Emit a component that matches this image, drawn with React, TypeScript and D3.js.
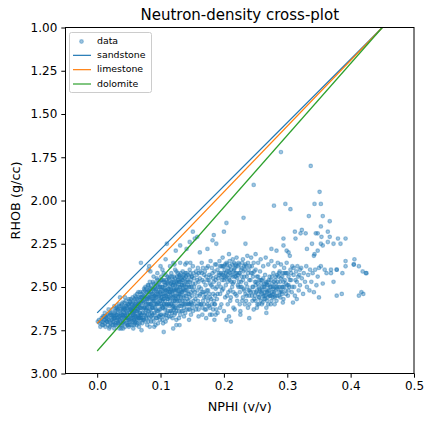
import React, { useEffect, useRef } from "react";
import * as d3 from "d3";

type Pt = [number, number];

const WIDTH = 432;
const HEIGHT = 423;

const xTicks = [0, 0.1, 0.2, 0.3, 0.4, 0.5];
const yTicks = [1, 1.25, 1.5, 1.75, 2, 2.25, 2.5, 2.75, 3];

// matrix lines, start at the matrix density and all meet at the fluid point
const lithologies = ["sandstone", "limestone", "dolomite"];
const lithologyColors = ["#1f77b4", "#ff7f0e", "#2ca02c"];
const matrixRhob = [2.65, 2.71, 2.87];
const fluidPoint: Pt = [0.45, 1.0];

// points, left to right
const tightPoints: Pt[] = [
  [0.001,2.7],[0.003,2.69],[0.004,2.71],[0.006,2.7],[0.007,2.68],[0.008,2.72],[0.009,2.7],[0.011,2.69],[0.012,2.71],[0.013,2.73],
  [0.014,2.67],[0.015,2.7],[0.016,2.66],[0.017,2.72],[0.018,2.69],[0.019,2.74],[0.02,2.65],[0.021,2.71],[0.022,2.68],[0.023,2.72],
  [0.024,2.63],[0.025,2.7],[0.026,2.66],[0.027,2.74],[0.028,2.68],[0.029,2.64],[0.03,2.72],[0.031,2.69],[0.032,2.62],[0.033,2.66],
  [0.034,2.71],[0.035,2.74],[0.036,2.64],[0.037,2.68],[0.038,2.61],[0.039,2.72],[0.04,2.66],[0.041,2.7],[0.042,2.63],[0.043,2.59],
  [0.044,2.73],[0.045,2.67],[0.046,2.64],[0.047,2.71],[0.048,2.6],[0.049,2.68],[0.05,2.57],[0.05,2.73],[0.051,2.62],[0.052,2.66],
  [0.053,2.7],[0.054,2.6],[0.055,2.64],[0.055,2.72],[0.056,2.56],[0.057,2.68],[0.058,2.62],[0.059,2.66],[0.06,2.55],[0.06,2.71],
  [0.061,2.6],[0.062,2.64],[0.063,2.69],[0.064,2.58],[0.065,2.53],[0.065,2.66],[0.066,2.73],[0.067,2.62],[0.068,2.56],[0.069,2.69],
  [0.012,2.65],[0.018,2.63],[0.024,2.67],[0.027,2.61],[0.031,2.66],[0.034,2.6],[0.036,2.7],[0.04,2.62],[0.043,2.68],[0.045,2.61],
  [0.047,2.65],[0.049,2.72],[0.052,2.59],[0.054,2.68],[0.057,2.63],[0.059,2.7],[0.061,2.67],[0.063,2.57],[0.066,2.6],[0.068,2.65],
  [0.009,2.67],[0.015,2.68],[0.021,2.66],[0.026,2.7],[0.029,2.68],[0.033,2.7],[0.037,2.65],[0.041,2.66],[0.044,2.63],[0.048,2.69],
  [0.051,2.65],[0.053,2.63],[0.056,2.66],[0.058,2.69],[0.06,2.6],[0.062,2.68],[0.064,2.63],[0.067,2.67],[0.069,2.59],[0.07,2.62],
  [0.036,2.56],[0.044,2.56],[0.041,2.74],[0.057,2.74],[0.038,2.74],
  [0.005,2.73],[0.01,2.72],[0.011,2.67],[0.013,2.69],[0.016,2.7],[0.017,2.67],[0.019,2.7],[0.02,2.73],[0.022,2.65],[0.023,2.69],
  [0.025,2.72],[0.026,2.68],[0.028,2.72],[0.028,2.65],[0.03,2.66],[0.03,2.62],[0.032,2.68],[0.032,2.71],[0.033,2.63],[0.035,2.69],
  [0.035,2.61],[0.036,2.67],[0.037,2.72],[0.038,2.63],[0.039,2.68],[0.04,2.59],[0.04,2.71],[0.041,2.63],[0.042,2.67],[0.042,2.7],
  [0.043,2.62],[0.044,2.66],[0.045,2.58],[0.045,2.71],[0.046,2.68],[0.046,2.61],[0.047,2.62],[0.048,2.66],[0.048,2.72],[0.049,2.63],
  [0.05,2.6],[0.05,2.69],[0.051,2.7],[0.051,2.58],[0.052,2.63],[0.052,2.72],[0.053,2.67],[0.053,2.57],[0.054,2.64],[0.055,2.68],
  [0.055,2.6],[0.056,2.62],[0.056,2.7],[0.057,2.58],[0.057,2.65],[0.058,2.66],[0.058,2.72],[0.059,2.61],[0.059,2.57],[0.06,2.64],
  [0.06,2.67],[0.061,2.56],[0.061,2.7],[0.062,2.61],[0.062,2.72],[0.063,2.64],[0.063,2.54],[0.064,2.67],[0.064,2.71],[0.065,2.6],
  [0.065,2.63],[0.066,2.56],[0.066,2.68],[0.067,2.59],[0.067,2.71],[0.068,2.62],[0.068,2.53],[0.069,2.66],[0.069,2.56],[0.07,2.68],
  [0.023,2.66],[0.027,2.67],[0.029,2.71],[0.031,2.63],[0.034,2.67],[0.038,2.66],[0.039,2.6],[0.043,2.65],[0.047,2.68],[0.049,2.6],
  [0.054,2.62],[0.056,2.59],[0.058,2.64],[0.06,2.62],[0.062,2.59],[0.064,2.61],[0.065,2.68],[0.067,2.65],[0.068,2.68],[0.07,2.58],
];

const blobPoints: Pt[] = [
  [0.07,2.54],[0.07,2.66],[0.071,2.71],[0.072,2.58],[0.073,2.63],[0.074,2.51],[0.074,2.69],[0.075,2.56],[0.076,2.65],[0.077,2.6],
  [0.078,2.53],[0.078,2.68],[0.079,2.62],[0.08,2.49],[0.08,2.57],[0.081,2.7],[0.082,2.64],[0.083,2.55],[0.083,2.6],[0.084,2.51],
  [0.085,2.67],[0.086,2.58],[0.087,2.62],[0.088,2.47],[0.088,2.54],[0.089,2.7],[0.09,2.6],[0.09,2.65],[0.091,2.5],[0.092,2.56],
  [0.093,2.63],[0.094,2.45],[0.094,2.68],[0.095,2.53],[0.096,2.59],[0.097,2.48],[0.098,2.63],[0.098,2.55],[0.099,2.66],[0.1,2.5],
  [0.1,2.58],[0.101,2.44],[0.102,2.61],[0.103,2.54],[0.104,2.47],[0.104,2.67],[0.105,2.57],[0.106,2.51],[0.107,2.63],[0.108,2.43],
  [0.108,2.55],[0.109,2.6],[0.11,2.48],[0.11,2.65],[0.111,2.53],[0.112,2.57],[0.113,2.45],[0.114,2.61],[0.115,2.5],[0.116,2.55],
  [0.117,2.42],[0.117,2.64],[0.118,2.47],[0.119,2.58],[0.12,2.52],[0.12,2.61],[0.121,2.44],[0.122,2.55],[0.123,2.49],[0.124,2.62],
  [0.125,2.41],[0.125,2.57],[0.126,2.52],[0.127,2.46],[0.128,2.6],[0.129,2.54],[0.13,2.43],[0.13,2.5],[0.131,2.58],[0.132,2.47],
  [0.133,2.64],[0.134,2.53],[0.135,2.41],[0.136,2.56],[0.137,2.49],[0.138,2.45],[0.139,2.6],[0.14,2.52],[0.141,2.42],[0.142,2.57],
  [0.143,2.47],[0.144,2.63],[0.145,2.54],[0.146,2.4],[0.147,2.5],[0.148,2.59],[0.149,2.44],[0.15,2.55],[0.151,2.48],[0.152,2.42],
  [0.073,2.55],[0.077,2.67],[0.081,2.52],[0.084,2.6],[0.086,2.65],[0.089,2.52],[0.091,2.62],[0.093,2.58],[0.095,2.49],[0.097,2.67],
  [0.099,2.53],[0.101,2.56],[0.103,2.62],[0.105,2.46],[0.107,2.52],[0.109,2.66],[0.111,2.47],[0.112,2.6],[0.114,2.53],[0.116,2.48],
  [0.118,2.6],[0.12,2.46],[0.122,2.58],[0.124,2.52],[0.126,2.44],[0.128,2.56],[0.13,2.61],[0.132,2.52],[0.134,2.46],[0.136,2.6],
  [0.075,2.62],[0.079,2.58],[0.082,2.56],[0.085,2.53],[0.087,2.57],[0.09,2.55],[0.092,2.52],[0.094,2.6],[0.096,2.54],[0.098,2.6],
  [0.1,2.63],[0.102,2.5],[0.104,2.57],[0.106,2.6],[0.108,2.49],[0.11,2.56],[0.112,2.51],[0.115,2.58],[0.117,2.52],[0.119,2.49],
  [0.121,2.6],[0.123,2.56],[0.125,2.47],[0.127,2.54],[0.129,2.47],[0.131,2.54],[0.133,2.49],[0.135,2.58],[0.138,2.52],[0.14,2.47],
  [0.076,2.5],[0.083,2.47],[0.089,2.44],[0.095,2.42],[0.103,2.4],[0.115,2.38],[0.122,2.37],[0.131,2.36],[0.141,2.36],[0.116,2.67],
  [0.122,2.66],[0.104,2.71],[0.092,2.72],[0.083,2.73],[0.129,2.68],[0.137,2.67],[0.13,2.72],[0.12,2.74],[0.105,2.76],[0.07,2.75],
  [0.145,2.6],[0.148,2.66],[0.156,2.63],[0.153,2.5],[0.155,2.57],[0.157,2.43],[0.158,2.52],[0.159,2.39],[0.16,2.47],[0.161,2.6],
  [0.162,2.55],[0.163,2.41],[0.164,2.51],[0.165,2.36],[0.166,2.46],[0.167,2.58],[0.168,2.53],[0.169,2.43],[0.17,2.63],[0.171,2.49],
  [0.172,2.56],[0.173,2.39],[0.174,2.46],[0.175,2.52],[0.176,2.61],[0.177,2.43],[0.178,2.56],[0.179,2.35],[0.18,2.49],[0.181,2.66],
  [0.182,2.42],[0.183,2.54],[0.184,2.47],[0.185,2.6],[0.186,2.37],[0.187,2.51],[0.188,2.44],[0.189,2.57],[0.19,2.4],[0.19,2.65],
  [0.071,2.56],[0.071,2.61],[0.072,2.65],[0.072,2.53],[0.073,2.59],[0.073,2.68],[0.074,2.57],[0.074,2.62],[0.075,2.52],[0.075,2.66],
  [0.076,2.59],[0.076,2.55],[0.077,2.63],[0.077,2.51],[0.078,2.57],[0.078,2.62],[0.079,2.53],[0.079,2.66],[0.08,2.6],[0.08,2.64],
  [0.081,2.56],[0.081,2.49],[0.082,2.6],[0.082,2.53],[0.083,2.66],[0.083,2.51],[0.084,2.56],[0.084,2.63],[0.085,2.49],[0.085,2.6],
  [0.086,2.54],[0.086,2.62],[0.087,2.51],[0.087,2.66],[0.088,2.58],[0.088,2.62],[0.089,2.56],[0.089,2.48],[0.09,2.51],[0.09,2.58],
  [0.091,2.55],[0.091,2.66],[0.092,2.6],[0.092,2.48],[0.093,2.54],[0.093,2.51],[0.094,2.56],[0.094,2.64],[0.095,2.6],[0.095,2.46],
  [0.096,2.5],[0.096,2.64],[0.097,2.56],[0.097,2.52],[0.098,2.47],[0.098,2.67],[0.099,2.58],[0.099,2.5],[0.1,2.54],[0.1,2.46],
  [0.101,2.6],[0.101,2.52],[0.102,2.56],[0.102,2.46],[0.103,2.5],[0.103,2.58],[0.104,2.52],[0.104,2.62],[0.105,2.54],[0.105,2.6],
  [0.106,2.47],[0.106,2.55],[0.107,2.58],[0.107,2.49],[0.108,2.62],[0.108,2.52],[0.109,2.46],[0.109,2.55],[0.11,2.52],[0.11,2.6],
  [0.111,2.57],[0.111,2.44],[0.112,2.54],[0.112,2.48],[0.113,2.6],[0.113,2.51],[0.114,2.46],[0.114,2.56],[0.115,2.44],[0.115,2.53],
  [0.116,2.51],[0.116,2.6],[0.117,2.48],[0.117,2.56],[0.118,2.53],[0.118,2.44],[0.119,2.54],[0.119,2.62],[0.12,2.49],[0.12,2.56],
  [0.121,2.51],[0.121,2.47],[0.122,2.62],[0.122,2.52],[0.123,2.45],[0.123,2.58],[0.124,2.55],[0.124,2.48],[0.125,2.51],[0.125,2.64],
  [0.126,2.48],[0.126,2.58],[0.127,2.5],[0.127,2.42],[0.128,2.52],[0.128,2.46],[0.129,2.58],[0.129,2.44],[0.13,2.55],[0.13,2.47],
  [0.131,2.5],[0.131,2.44],[0.132,2.56],[0.132,2.42],[0.133,2.53],[0.133,2.45],[0.134,2.49],[0.134,2.6],[0.135,2.52],[0.135,2.46],
  [0.136,2.44],[0.136,2.51],[0.137,2.55],[0.137,2.43],[0.138,2.48],[0.138,2.58],[0.139,2.5],[0.139,2.42],[0.14,2.55],[0.14,2.44],
  [0.141,2.5],[0.141,2.6],[0.142,2.46],[0.142,2.52],[0.143,2.43],[0.143,2.54],[0.144,2.49],[0.144,2.58],[0.145,2.44],[0.145,2.5],
  [0.146,2.56],[0.146,2.47],[0.147,2.42],[0.147,2.6],[0.148,2.46],[0.148,2.53],[0.149,2.5],[0.15,2.44],[0.15,2.62],[0.151,2.52],
  [0.152,2.58],[0.153,2.45],[0.154,2.53],[0.155,2.48],[0.156,2.41],[0.157,2.55],[0.158,2.46],[0.159,2.58],[0.16,2.42],[0.161,2.5],
  [0.162,2.45],[0.163,2.54],[0.164,2.6],[0.165,2.42],[0.166,2.53],[0.167,2.39],[0.168,2.47],[0.169,2.56],[0.17,2.41],[0.171,2.54],
  [0.172,2.44],[0.173,2.52],[0.174,2.6],[0.175,2.38],[0.176,2.46],[0.177,2.54],[0.178,2.48],[0.179,2.44],[0.18,2.57],[0.181,2.39],
  [0.182,2.5],[0.183,2.45],[0.184,2.58],[0.185,2.41],[0.186,2.55],[0.187,2.46],[0.188,2.37],[0.189,2.5],[0.19,2.54],[0.191,2.45],
  // lower edge of the cloud
  [0.072,2.69],[0.076,2.7],[0.079,2.72],[0.082,2.68],[0.085,2.7],[0.088,2.68],[0.09,2.73],[0.093,2.68],[0.096,2.71],[0.099,2.69],
  [0.101,2.66],[0.103,2.69],[0.106,2.66],[0.108,2.7],[0.11,2.68],[0.112,2.64],[0.113,2.67],[0.115,2.64],[0.118,2.65],[0.119,2.68],
  [0.121,2.63],[0.123,2.65],[0.125,2.69],[0.127,2.62],[0.129,2.64],[0.131,2.66],[0.133,2.61],[0.135,2.64],[0.137,2.62],[0.139,2.65],
  [0.141,2.63],[0.143,2.6],[0.146,2.63],[0.149,2.6],[0.151,2.64],[0.154,2.6],[0.157,2.61],[0.16,2.63],[0.163,2.6],[0.166,2.62],
  [0.169,2.6],[0.172,2.63],[0.175,2.58],[0.178,2.62],[0.181,2.6],[0.183,2.63],[0.186,2.6],[0.188,2.63],[0.125,2.72],[0.145,2.69],
];

const bodyPoints: Pt[] = [
  [0.192,2.48],[0.193,2.35],[0.194,2.54],[0.195,2.42],[0.196,2.6],[0.197,2.46],[0.198,2.33],[0.199,2.51],[0.2,2.38],[0.2,2.64],
  [0.201,2.44],[0.202,2.56],[0.203,2.49],[0.204,2.36],[0.205,2.41],[0.206,2.6],[0.207,2.53],[0.208,2.31],[0.209,2.46],[0.21,2.38],
  [0.211,2.56],[0.212,2.43],[0.213,2.5],[0.214,2.34],[0.215,2.62],[0.216,2.47],[0.217,2.39],[0.218,2.54],[0.219,2.44],[0.22,2.33],
  [0.221,2.58],[0.222,2.49],[0.223,2.36],[0.224,2.42],[0.225,2.53],[0.226,2.64],[0.227,2.47],[0.228,2.39],[0.229,2.58],[0.23,2.34],
  [0.231,2.51],[0.232,2.44],[0.233,2.6],[0.234,2.37],[0.235,2.48],[0.236,2.55],[0.237,2.32],[0.238,2.42],[0.239,2.52],[0.24,2.6],
  [0.241,2.38],[0.242,2.46],[0.243,2.33],[0.244,2.55],[0.245,2.42],[0.246,2.5],[0.247,2.36],[0.248,2.57],[0.249,2.47],[0.25,2.31],
  [0.251,2.53],[0.252,2.44],[0.253,2.6],[0.254,2.36],[0.255,2.5],[0.256,2.56],[0.257,2.41],[0.258,2.34],[0.259,2.53],[0.26,2.46],
  [0.261,2.59],[0.262,2.38],[0.263,2.5],[0.264,2.55],[0.265,2.43],[0.266,2.33],[0.267,2.52],[0.268,2.58],[0.269,2.47],[0.27,2.37],
  [0.271,2.54],[0.272,2.44],[0.273,2.5],[0.274,2.6],[0.275,2.35],[0.276,2.48],[0.277,2.56],[0.278,2.42],[0.279,2.53],[0.28,2.38],
  [0.281,2.46],[0.282,2.52],[0.283,2.58],[0.284,2.43],[0.285,2.36],[0.286,2.5],[0.287,2.55],[0.288,2.41],[0.289,2.47],[0.29,2.37],
  [0.291,2.53],[0.292,2.44],[0.293,2.5],[0.294,2.57],[0.295,2.39],[0.296,2.46],[0.297,2.52],[0.298,2.42],[0.299,2.36],[0.3,2.49],
  [0.301,2.55],[0.302,2.44],[0.303,2.5],[0.305,2.4],[0.306,2.46],[0.307,2.53],[0.308,2.38],[0.31,2.43],[0.311,2.5],[0.312,2.55],
  [0.314,2.41],[0.315,2.47],[0.316,2.38],[0.318,2.52],[0.319,2.43],[0.32,2.49],[0.322,2.39],[0.323,2.45],[0.325,2.54],[0.326,2.42],
  [0.328,2.47],[0.33,2.38],[0.331,2.5],[0.333,2.43],[0.335,2.52],[0.336,2.4],[0.338,2.47],[0.34,2.42],[0.342,2.53],[0.344,2.4],
  [0.346,2.49],[0.348,2.44],[0.35,2.39],
  [0.195,2.5],[0.198,2.43],[0.202,2.37],[0.206,2.47],[0.21,2.52],[0.214,2.44],[0.218,2.37],[0.222,2.43],[0.226,2.5],[0.23,2.46],
  [0.234,2.54],[0.238,2.36],[0.242,2.53],[0.246,2.44],[0.25,2.49],[0.254,2.54],[0.258,2.46],[0.262,2.55],[0.266,2.47],[0.27,2.52],
  [0.274,2.46],[0.278,2.51],[0.282,2.48],[0.286,2.44],[0.29,2.52],[0.294,2.47],[0.298,2.54],[0.302,2.49],[0.256,2.51],[0.26,2.52],
  [0.264,2.5],[0.268,2.49],[0.272,2.55],[0.276,2.53],[0.28,2.56],[0.284,2.51],[0.288,2.53],[0.292,2.5],[0.204,2.44],[0.208,2.41],
  [0.212,2.47],[0.216,2.4],[0.22,2.42],[0.224,2.47],[0.228,2.44],[0.232,2.38],[0.196,2.38],[0.2,2.46],[0.192,2.42],[0.194,2.62],
  [0.187,2.66],[0.185,2.69],[0.178,2.66],[0.172,2.68],[0.166,2.66],[0.16,2.67],
  [0.193,2.43],[0.194,2.38],[0.196,2.44],[0.197,2.52],[0.198,2.38],[0.199,2.42],[0.201,2.4],[0.202,2.45],[0.203,2.42],[0.205,2.37],
  [0.206,2.43],[0.207,2.39],[0.208,2.45],[0.209,2.35],[0.21,2.42],[0.211,2.4],[0.213,2.37],[0.214,2.48],[0.215,2.41],[0.216,2.36],
  [0.217,2.44],[0.218,2.42],[0.219,2.38],[0.221,2.45],[0.222,2.38],[0.223,2.5],[0.224,2.37],[0.225,2.42],[0.227,2.4],[0.228,2.5],
  [0.229,2.36],[0.231,2.41],[0.232,2.52],[0.233,2.4],[0.235,2.38],[0.236,2.44],[0.237,2.5],[0.239,2.4],[0.24,2.46],[0.241,2.52],
  [0.243,2.42],[0.244,2.38],[0.245,2.5],[0.247,2.53],[0.248,2.41],[0.249,2.55],[0.25,2.4],[0.251,2.47],[0.252,2.52],[0.253,2.48],
  [0.254,2.44],[0.255,2.56],[0.256,2.46],[0.257,2.52],[0.258,2.58],[0.259,2.48],[0.26,2.54],[0.261,2.5],[0.262,2.45],[0.263,2.57],
  [0.264,2.48],[0.265,2.53],[0.266,2.55],[0.267,2.48],[0.268,2.53],[0.269,2.56],[0.27,2.49],[0.271,2.46],[0.272,2.52],[0.273,2.55],
  [0.274,2.5],[0.275,2.55],[0.276,2.44],[0.277,2.5],[0.278,2.54],[0.279,2.47],[0.28,2.5],[0.281,2.55],[0.282,2.44],[0.283,2.5],
  [0.284,2.55],[0.285,2.47],[0.287,2.42],[0.288,2.5],[0.289,2.56],[0.29,2.45],[0.292,2.54],[0.293,2.42],[0.295,2.5],[0.296,2.42],
  [0.298,2.48],[0.3,2.42],[0.302,2.52],[0.304,2.46],[0.306,2.42],[0.308,2.5],[0.31,2.39],[0.313,2.46],[0.317,2.44],[0.32,2.4],
  [0.205,2.55],[0.21,2.58],[0.215,2.53],[0.22,2.55],[0.225,2.6],[0.23,2.56],[0.235,2.58],[0.24,2.55],[0.245,2.58],[0.25,2.58],
  [0.255,2.6],[0.26,2.6],[0.265,2.57],[0.27,2.6],[0.275,2.58],
];

const sparsePoints: Pt[] = [
  [0.29,1.72],[0.337,1.8],[0.247,1.91],[0.351,1.95],[0.279,2.03],[0.297,2.02],[0.305,2.05],[0.343,2.02],[0.353,2.02],[0.231,2.1],
  [0.334,2.09],[0.356,2.09],[0.367,2.12],[0.204,2.13],[0.2,2.18],[0.353,2.15],[0.312,2.18],[0.323,2.17],[0.321,2.19],[0.329,2.19],
  [0.345,2.19],[0.348,2.19],[0.354,2.21],[0.364,2.18],[0.367,2.21],[0.294,2.22],[0.313,2.22],[0.38,2.22],[0.392,2.22],[0.234,2.25],
  [0.339,2.25],[0.364,2.24],[0.373,2.25],[0.384,2.25],[0.294,2.26],[0.353,2.25],[0.356,2.26],[0.275,2.28],[0.283,2.29],[0.331,2.28],
  [0.348,2.29],[0.299,2.29],[0.302,2.3],[0.304,2.32],[0.343,2.31],[0.342,2.32],[0.406,2.34],[0.392,2.35],[0.405,2.37],[0.405,2.37],
  [0.392,2.38],[0.413,2.38],[0.419,2.41],[0.424,2.42],[0.425,2.42],[0.387,2.42],[0.378,2.4],[0.378,2.4],[0.369,2.4],[0.369,2.42],
  [0.359,2.4],[0.362,2.42],[0.373,2.47],[0.353,2.38],[0.356,2.48],[0.386,2.54],[0.378,2.55],[0.413,2.55],[0.417,2.53],[0.42,2.54],
  [0.35,2.56],[0.315,2.57],[0.309,2.59],[0.24,2.68],[0.211,2.7],[0.204,2.69],[0.208,2.67],[0.226,2.66],[0.217,2.63],[0.267,2.65],
  [0.267,2.62],[0.247,2.63],[0.238,2.62],[0.252,2.62],[0.28,2.6],[0.293,2.59],
  // scattered above the main trend, near the lines
  [0.151,2.18],[0.158,2.21],[0.154,2.22],[0.146,2.24],[0.11,2.25],[0.131,2.26],[0.124,2.29],[0.141,2.28],[0.108,2.34],[0.12,2.36],
  [0.069,2.36],[0.082,2.38],[0.1,2.38],[0.162,2.3],[0.174,2.28],[0.184,2.2],[0.182,2.23],[0.188,2.25],[0.139,2.37],[0.147,2.36],
  [0.151,2.38],[0.105,2.42],[0.123,2.4],[0.081,2.4],[0.084,2.41],
];

const allPoints: Pt[] = [...tightPoints, ...blobPoints, ...bodyPoints, ...sparsePoints];

const App: React.FC = () => {
  const svgRef = useRef<SVGSVGElement | null>(null);

  useEffect(() => {
    if (!svgRef.current) return;
    const margin = { top: 27.5, right: 18, bottom: 49.5, left: 65.5 };
    const fontFamily = '"DejaVu Sans"';

    const svg = d3.select(svgRef.current);
    svg.selectAll("*").remove();
    svg.attr("font-family", fontFamily);

    const x = d3.scaleLinear().domain([-0.05, 0.5]).range([margin.left, WIDTH - margin.right]);
    const y = d3.scaleLinear().domain([1, 3]).range([margin.top, HEIGHT - margin.bottom]);

    svg.append("defs").append("clipPath").attr("id", "plot-area")
      .append("rect")
      .attr("x", margin.left)
      .attr("y", margin.top)
      .attr("width", WIDTH - margin.right - margin.left)
      .attr("height", HEIGHT - margin.bottom - margin.top);

    const plot = svg.append("g").attr("clip-path", "url(#plot-area)");

    plot.append("g")
      .selectAll("circle")
      .data(allPoints)
      .enter()
      .append("circle")
      .attr("cx", (d) => x(d[0]))
      .attr("cy", (d) => y(d[1]))
      .attr("r", 1.8)
      .attr("fill", "#1f77b4")
      .attr("fill-opacity", 0.42)
      .attr("stroke", "#1f77b4")
      .attr("stroke-opacity", 0.42)
      .attr("stroke-width", 1.2);

    const line = d3.line<Pt>().x((d) => x(d[0])).y((d) => y(d[1]));
    lithologies.forEach((name, i) => {
      plot.append("path")
        .attr("d", line([[0, matrixRhob[i]], fluidPoint]))
        .attr("fill", "none")
        .attr("stroke", lithologyColors[i])
        .attr("stroke-width", 1.2);
    });

    // axes
    const xAxis = svg.append("g")
      .attr("transform", `translate(0,${HEIGHT - margin.bottom})`)
      .call(d3.axisBottom(x).tickValues(xTicks).tickFormat(d3.format(".1f")).tickSize(4.2).tickPadding(4));
    const yAxis = svg.append("g")
      .attr("transform", `translate(${margin.left},0)`)
      .call(d3.axisLeft(y).tickValues(yTicks).tickFormat(d3.format(".2f")).tickSize(4.2).tickPadding(4));
    [xAxis, yAxis].forEach((axis) => {
      axis.select(".domain").remove();
      axis.selectAll("line").attr("stroke", "#000").attr("stroke-width", 1);
      axis.selectAll("text").attr("font-size", 12).attr("font-family", fontFamily).attr("fill", "#000");
    });

    svg.append("rect")
      .attr("x", margin.left)
      .attr("y", margin.top)
      .attr("width", WIDTH - margin.right - margin.left)
      .attr("height", HEIGHT - margin.bottom - margin.top)
      .attr("fill", "none")
      .attr("stroke", "#000")
      .attr("stroke-width", 1);

    svg.append("text")
      .attr("x", (margin.left + WIDTH - margin.right) / 2)
      .attr("y", 20)
      .attr("text-anchor", "middle")
      .attr("font-size", 15)
      .text("Neutron-density cross-plot");
    svg.append("text")
      .attr("x", (margin.left + WIDTH - margin.right) / 2)
      .attr("y", 411)
      .attr("text-anchor", "middle")
      .attr("font-size", 12.8)
      .text("NPHI (v/v)");
    svg.append("text")
      .attr("transform", `translate(20,${(margin.top + HEIGHT - margin.bottom) / 2}) rotate(-90)`)
      .attr("text-anchor", "middle")
      .attr("font-size", 12.8)
      .text("RHOB (g/cc)");

    // legend
    const legend = svg.append("g");
    legend.append("rect")
      .attr("x", 69.5)
      .attr("y", 32.5)
      .attr("width", 82)
      .attr("height", 60)
      .attr("rx", 2)
      .attr("fill", "#fff")
      .attr("fill-opacity", 0.8)
      .attr("stroke", "#ccc")
      .attr("stroke-width", 1);
    const rowY = d3.scalePoint<string>()
      .domain(["data", ...lithologies])
      .range([40.5, 83.5]);
    legend.append("circle")
      .attr("cx", 81.5)
      .attr("cy", rowY("data")! + 1)
      .attr("r", 1.8)
      .attr("fill", "#1f77b4")
      .attr("fill-opacity", 0.42)
      .attr("stroke", "#1f77b4")
      .attr("stroke-opacity", 0.42)
      .attr("stroke-width", 1.2);
    lithologies.forEach((name, i) => {
      legend.append("line")
        .attr("x1", 73)
        .attr("x2", 91)
        .attr("y1", rowY(name)! + 0.5)
        .attr("y2", rowY(name)! + 0.5)
        .attr("stroke", lithologyColors[i])
        .attr("stroke-width", 1.2);
    });
    legend.selectAll("text")
      .data(["data", ...lithologies])
      .enter()
      .append("text")
      .attr("x", 97)
      .attr("y", (d) => rowY(d)! + 3)
      .attr("font-size", 9.4)
      .text((d) => d);
  }, []);

  return (
    <svg
      ref={svgRef}
      width={WIDTH}
      height={HEIGHT}
      style={{ position: "absolute", left: 0, top: 0, background: "#fff" }}
    />
  );
};

export default App;
